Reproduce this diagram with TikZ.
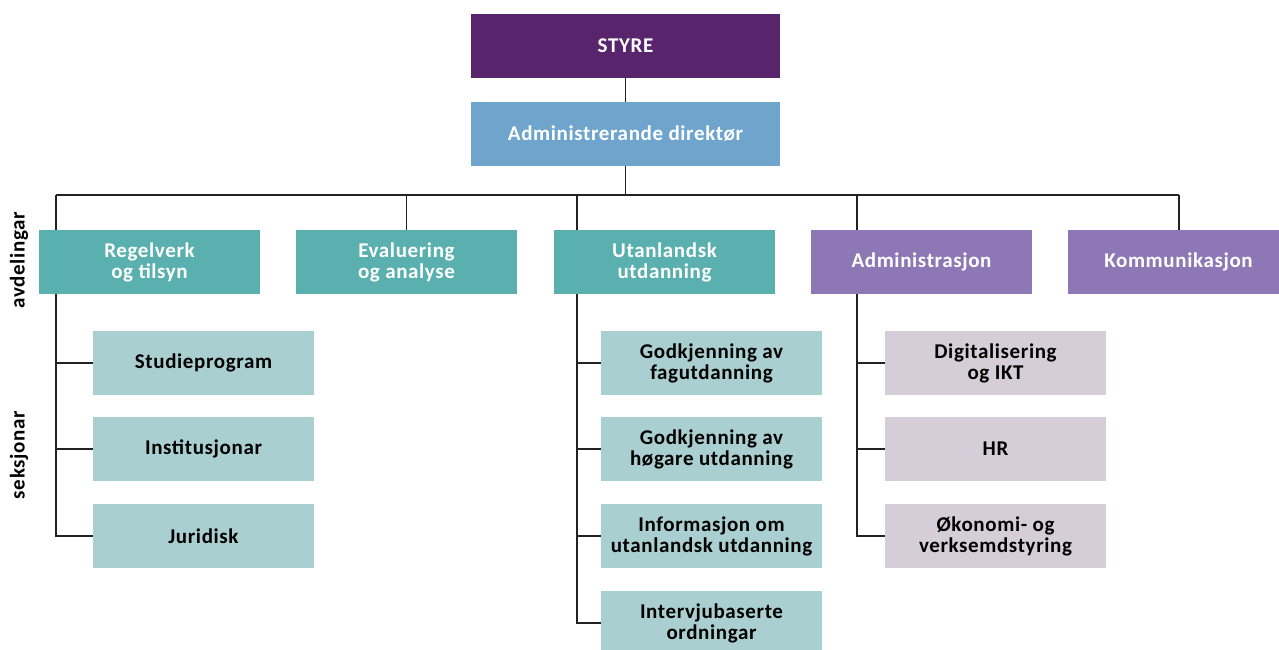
\documentclass[tikz,border=0pt]{standalone}
\usepackage{fontspec}
\setmainfont{Carlito}[LetterSpace=3]
\definecolor{cstyre}{HTML}{58246C}
\definecolor{cdir}{HTML}{6FA5CC}
\definecolor{cteal}{HTML}{5AAFAF}
\definecolor{cpurple}{HTML}{8E77B5}
\definecolor{csecteal}{HTML}{A9CFD0}
\definecolor{csecgrey}{HTML}{D5CDD7}
\definecolor{cline}{HTML}{222222}
\begin{document}
\begin{tikzpicture}[x=1pt,y=-1pt,
  box/.style={rectangle, minimum width=221pt, minimum height=64pt, inner sep=0pt, align=center,
    font=\fontsize{21}{21}\selectfont\bfseries},
  topbox/.style={box, minimum width=309pt, text=white},
  deptteal/.style={box, fill=cteal, text=white},
  deptpurple/.style={box, fill=cpurple, text=white},
  secteal/.style={box, fill=csecteal, text=black},
  secgrey/.style={box, fill=csecgrey, text=black},
  sidelabel/.style={rotate=90, font=\fontsize{21}{21}\selectfont\bfseries, text=black},
  conn/.style={draw=cline, line width=1.3pt}]
\useasboundingbox (0,0) rectangle (1279,649);
\begin{scope}
\clip (0,0) rectangle (1279,649);
% top
\node[topbox, fill=cstyre] (styre) at (625.5,46) {STYRE};
\node[topbox, fill=cdir] (dir) at (625.5,134) {Administrerande direktør};
% departments
\node[deptteal] (reg) at (149.5,262) {Regelverk\\og tilsyn};
\node[deptteal] (eva) at (406.5,262) {Evaluering\\og analyse};
\node[deptteal] (uta) at (664.5,262) {Utanlandsk\\utdanning};
\node[deptpurple] (adm) at (921.5,262) {Administrasjon};
\node[deptpurple] (kom) at (1178.5,262) {Kommunikasjon};
% sections left
\node[secteal] (s11) at (203.5,363) {Studieprogram};
\node[secteal] (s12) at (203.5,449) {Institusjonar};
\node[secteal] (s13) at (203.5,536) {Juridisk};
% sections middle
\node[secteal] (s21) at (711.5,363) {Godkjenning av\\fagutdanning};
\node[secteal] (s22) at (711.5,449) {Godkjenning av\\høgare utdanning};
\node[secteal] (s23) at (711.5,536) {Informasjon om\\utanlandsk utdanning};
\node[secteal] (s24) at (711.5,623) {Intervjubaserte\\ordningar};
% sections right
\node[secgrey] (s31) at (995.5,363) {Digitalisering\\og IKT};
\node[secgrey] (s32) at (995.5,449) {HR};
\node[secgrey] (s33) at (995.5,536) {Økonomi- og\\verksemdstyring};
% side labels
\node[sidelabel] (lab1) at (19,260) {avdelingar};
\node[sidelabel] (lab2) at (19,455) {seksjonar};
% bus coordinates
\coordinate (hub) at (625.5,195);
\coordinate (b1) at (56,195);
\coordinate (b2) at (406.5,195);
\coordinate (b3) at (577,195);
\coordinate (b4) at (857,195);
\coordinate (b5) at (1179,195);
% connectors
\draw[conn] (styre.south) -- (dir.north);
\draw[conn] (dir.south) -- (hub);
\draw[conn] (b1) -- (b5);
\draw[conn] (b1) -- (b1 |- reg.north);
\draw[conn] (b2) -- (eva.north);
\draw[conn] (b3) -- (b3 |- uta.north);
\draw[conn] (b4) -- (b4 |- adm.north);
\draw[conn] (b5) -- (b5 |- kom.north);
% left tree
\draw[conn] (b1 |- reg.south) |- (s13.west);
\draw[conn] (b1 |- s11.west) -- (s11.west);
\draw[conn] (b1 |- s12.west) -- (s12.west);
% middle tree
\draw[conn] (b3 |- uta.south) |- (s24.west);
\draw[conn] (b3 |- s21.west) -- (s21.west);
\draw[conn] (b3 |- s22.west) -- (s22.west);
\draw[conn] (b3 |- s23.west) -- (s23.west);
% right tree
\draw[conn] (b4 |- adm.south) |- (s33.west);
\draw[conn] (b4 |- s31.west) -- (s31.west);
\draw[conn] (b4 |- s32.west) -- (s32.west);
\end{scope}
\end{tikzpicture}
\end{document}
